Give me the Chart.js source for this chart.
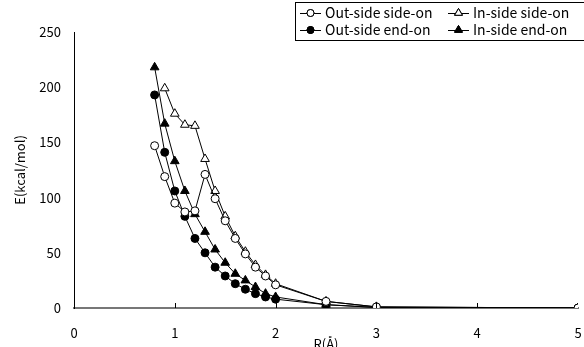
<!DOCTYPE html>
<html>
<head>
<meta charset="utf-8">
<script src="https://cdn.jsdelivr.net/npm/chart.js@4.4.0/dist/chart.umd.min.js"></script>
<style>
  html, body { margin: 0; padding: 0; background: #fff; }
  #wrap { position: relative; width: 584px; height: 347px; }
</style>
</head>
<body>
<div id="wrap"><canvas id="chart"></canvas></div>
<script>
// R (Angstrom) sample positions
const R = [0.8, 0.9, 1.0, 1.1, 1.2, 1.3, 1.4, 1.5, 1.6, 1.7, 1.8, 1.9, 2.0, 2.5, 3.0, 5.0];

// E (kcal/mol) per series
const outSideSideOn = [147, 119, 95, 87, 88, 121, 99, 79, 63, 49, 37, 29, 21, 6, 1, 0];
const inSideSideOn = [null, 199, 176, 166, 165, 135, 106, 83, 65, 51, 39, 30, 22, 6, 1, 0];
const outSideEndOn = [193, 141, 106, 83, 63, 50, 37, 29, 22, 17, 13, 10, 8, 3, 0.5, 0];
const inSideEndOn = [218, 167, 133, 106, 85, 69, 53, 41, 31, 25, 19, 13, 10, 3, 0.5, 0];

const xTicks = [0, 1, 2, 3, 4, 5];
const yTicks = [0, 50, 100, 150, 200, 250];

const FONT = '"Noto Sans CJK JP", "DejaVu Sans", sans-serif';

const toPoints = vals => R.map((x, i) => ({ x: x, y: vals[i] })).filter(p => p.y !== null);

const series = [
  { label: 'Out-side side-on', data: outSideSideOn, style: 'circle', fill: '#fff', r: 4 },
  { label: 'In-side side-on', data: inSideSideOn, style: 'triangle', fill: '#fff', r: 5 },
  { label: 'Out-side end-on', data: outSideEndOn, style: 'circle', fill: '#000', r: 4 },
  { label: 'In-side end-on', data: inSideEndOn, style: 'triangle', fill: '#000', r: 5 }
];

// legend drawn by hand: two columns, marker on a short line
const legendPlugin = {
  id: 'boxLegend',
  afterDraw(chart) {
    const ctx = chart.ctx;
    ctx.save();
    ctx.strokeStyle = '#000';
    ctx.lineWidth = 1;
    ctx.strokeRect(295.5, 2.5, 300, 38);
    const cols = [300, 448];
    const rows = [13, 30];
    // [dataset, column, row]
    const layout = [[0, 0, 0], [1, 1, 0], [2, 0, 1], [3, 1, 1]];
    ctx.font = '14px ' + FONT;
    ctx.textBaseline = 'middle';
    layout.forEach(([idx, c, r]) => {
      const ds = chart.data.datasets[idx];
      const x0 = cols[c];
      const y = rows[r];
      ctx.beginPath();
      ctx.moveTo(x0, y + 0.5);
      ctx.lineTo(x0 + 21, y + 0.5);
      ctx.stroke();
      Chart.helpers.drawPoint(ctx, {
        pointStyle: ds.pointStyle,
        radius: ds.pointRadius - 0.5,
        borderWidth: 1
      }, x0 + 10.5, y);
      ctx.fillStyle = ds.pointBackgroundColor;
      ctx.fill();
      ctx.stroke();
      ctx.fillStyle = '#000';
      ctx.fillText(ds.label, x0 + 25, y);
    });
    ctx.restore();
  }
};

// small inward tick marks on the x axis
const innerTicks = {
  id: 'innerTicks',
  afterDraw(chart) {
    const xs = chart.scales.x;
    const ctx = chart.ctx;
    ctx.save();
    ctx.strokeStyle = '#000';
    ctx.lineWidth = 1;
    xTicks.slice(1, -1).forEach(v => {
      const px = Math.round(xs.getPixelForValue(v)) + 0.5;
      ctx.beginPath();
      ctx.moveTo(px, xs.top - 5);
      ctx.lineTo(px, xs.top);
      ctx.stroke();
    });
    ctx.restore();
  }
};

new Chart(document.getElementById('chart'), {
  type: 'line',
  data: {
    datasets: series.map(s => ({
      label: s.label,
      data: toPoints(s.data),
      borderColor: '#000',
      borderWidth: 1,
      pointStyle: s.style,
      pointRadius: s.r,
      pointBackgroundColor: s.fill,
      pointBorderColor: '#000',
      pointBorderWidth: 1,
      tension: 0,
      fill: false
    }))
  },
  options: {
    responsive: true,
    maintainAspectRatio: false,
    animation: false,
    events: [],
    layout: { padding: { top: 32, right: 0, left: 0, bottom: 0 } },
    plugins: {
      legend: { display: false },
      tooltip: { enabled: false }
    },
    scales: {
      x: {
        type: 'linear',
        min: 0,
        max: 5,
        afterBuildTicks: scale => { scale.ticks = xTicks.map(v => ({ value: v })); },
        afterFit: scale => {
          scale.height = 39;
          scale.paddingLeft = 0;
          scale.paddingRight = 0;
        },
        grid: { display: false, drawTicks: false },
        border: { display: true, color: '#777', width: 2 },
        ticks: { color: '#000', font: { family: FONT, size: 13 }, padding: 17, maxRotation: 0 },
        title: {
          display: true,
          text: 'R(Å)',
          color: '#000',
          font: { family: FONT, size: 13 },
          padding: { top: 0, bottom: -5 }
        }
      },
      y: {
        min: 0,
        max: 250,
        afterBuildTicks: scale => { scale.ticks = yTicks.map(v => ({ value: v })); },
        afterFit: scale => { scale.width = 74; },
        grid: { display: false, drawTicks: false },
        border: { display: true, color: '#000', width: 1 },
        ticks: { color: '#000', font: { family: FONT, size: 13 }, padding: 13 },
        title: {
          display: true,
          text: 'E(kcal/mol)',
          color: '#000',
          font: { family: FONT, size: 13 },
          padding: { top: 12, bottom: 0 }
        }
      }
    }
  },
  plugins: [legendPlugin, innerTicks]
});
</script>
</body>
</html>
